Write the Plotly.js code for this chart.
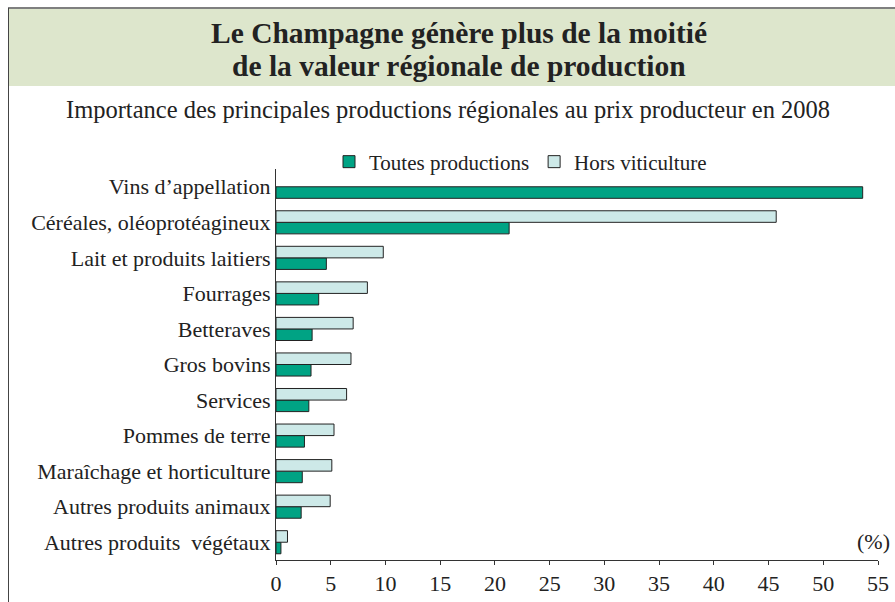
<!DOCTYPE html>
<html>
<head>
<meta charset="utf-8">
<script src="https://cdn.plot.ly/plotly-3.0.1.min.js"></script>
<style>
html,body{margin:0;padding:0;background:#fff;}
#chart{width:895px;height:602px;}
</style>
</head>
<body>
<div id="chart"></div>
<script>
// ---- data ----
const categories = [
  "Vins d’appellation",
  "Céréales, oléoprotéagineux",
  "Lait et produits laitiers",
  "Fourrages",
  "Betteraves",
  "Gros bovins",
  "Services",
  "Pommes de terre",
  "Maraîchage et horticulture",
  "Autres produits animaux",
  "Autres produits \u00a0végétaux"
];
const toutesProductions = [53.6, 21.3, 4.6, 3.9, 3.3, 3.2, 3.0, 2.6, 2.4, 2.3, 0.45];
const horsViticulture   = [null, 45.7, 9.8, 8.35, 7.05, 6.85, 6.45, 5.3, 5.1, 4.95, 1.05];
const seriesNames = ["Toutes productions", "Hors viticulture"];
const xTicks = [0, 5, 10, 15, 20, 25, 30, 35, 40, 45, 50, 55];
const titleLine1 = "Le Champagne génère plus de la moitié";
const titleLine2 = "de la valeur régionale de production";
const subtitle = "Importance des principales productions régionales au prix producteur en 2008";
const unitLabel = "(%)";

// ---- layout helpers (page pixels -> paper coords) ----
const W = 895, H = 602;
const M = {l: 276, r: 17, t: 169, b: 42};
const PW = W - M.l - M.r, PH = H - M.t - M.b;
const px = x => (x - M.l) / PW;
const py = y => (H - M.b - y) / PH;

const serif = "'Liberation Serif', 'Times New Roman', serif";
const dark = "#00a384", light = "#cde9e8", edge = "#222";

const traces = [
  {type: "bar", orientation: "h", name: seriesNames[0], y: categories, x: toutesProductions,
   marker: {color: dark, line: {color: edge, width: 1}}},
  {type: "bar", orientation: "h", name: seriesNames[1], y: categories, x: horsViticulture,
   marker: {color: light, line: {color: edge, width: 1}}}
];

const layout = {
  width: W, height: H,
  margin: M,
  paper_bgcolor: "rgba(0,0,0,0)", plot_bgcolor: "rgba(0,0,0,0)",
  barmode: "group", bargap: 0.35, bargroupgap: 0,
  showlegend: true,
  font: {family: serif, color: "#222", size: 22},
  title: {text: titleLine1, font: {family: serif, size: 29.5, weight: 700, color: "#222"},
          x: 459 / W, xanchor: "center", y: 1 - 33 / H, yanchor: "middle", yref: "container"},
  xaxis: {range: [0, 55], tickvals: xTicks, ticktext: xTicks.map(String),
          showgrid: false, zeroline: false, showline: true, linecolor: "#333", linewidth: 1,
          ticks: "outside", ticklen: 4, tickcolor: "#333", tickfont: {size: 22, family: serif, color: "#222"},
          fixedrange: true},
  yaxis: {type: "category", categoryorder: "array", categoryarray: categories.slice().reverse(),
          showgrid: false, zeroline: false, showline: true, linecolor: "#333", linewidth: 1,
          ticks: "", ticklabelstandoff: 0, tickfont: {size: 22, family: serif, color: "#222"},
          fixedrange: true},
  legend: {orientation: "h", x: px(329), xanchor: "left", y: py(162), yanchor: "middle",
           font: {size: 21, family: serif, color: "#222"}, bgcolor: "rgba(0,0,0,0)",
           itemwidth: 30, traceorder: "normal"},
  shapes: [
    {type: "rect", xref: "paper", yref: "paper", x0: px(9), x1: px(895), y0: py(86), y1: py(8),
     fillcolor: "#dde6cc", line: {width: 0}, layer: "below"},
    {type: "line", xref: "paper", yref: "paper", x0: px(8), x1: px(895), y0: py(8), y1: py(8),
     line: {color: "#7f7f7f", width: 2}},
    {type: "line", xref: "paper", yref: "paper", x0: px(8.5), x1: px(8.5), y0: py(8), y1: py(602),
     line: {color: "#444", width: 1}}
  ],
  annotations: [
    {text: titleLine2, xref: "paper", yref: "paper", x: px(459), y: py(66), xanchor: "center", yanchor: "middle",
     showarrow: false, font: {family: serif, size: 29.5, weight: 700, color: "#222"}},
    {text: subtitle, xref: "paper", yref: "paper", x: px(447.5), y: py(110), xanchor: "center", yanchor: "middle",
     showarrow: false, font: {family: serif, size: 24.5, color: "#222"}},
    {text: unitLabel, xref: "paper", yref: "paper", x: px(892), y: py(541), xanchor: "right", yanchor: "middle",
     showarrow: false, font: {family: serif, size: 22, color: "#222"}}
  ]
};

Plotly.newPlot("chart", traces, layout, {staticPlot: true, displayModeBar: false});
</script>
</body>
</html>
